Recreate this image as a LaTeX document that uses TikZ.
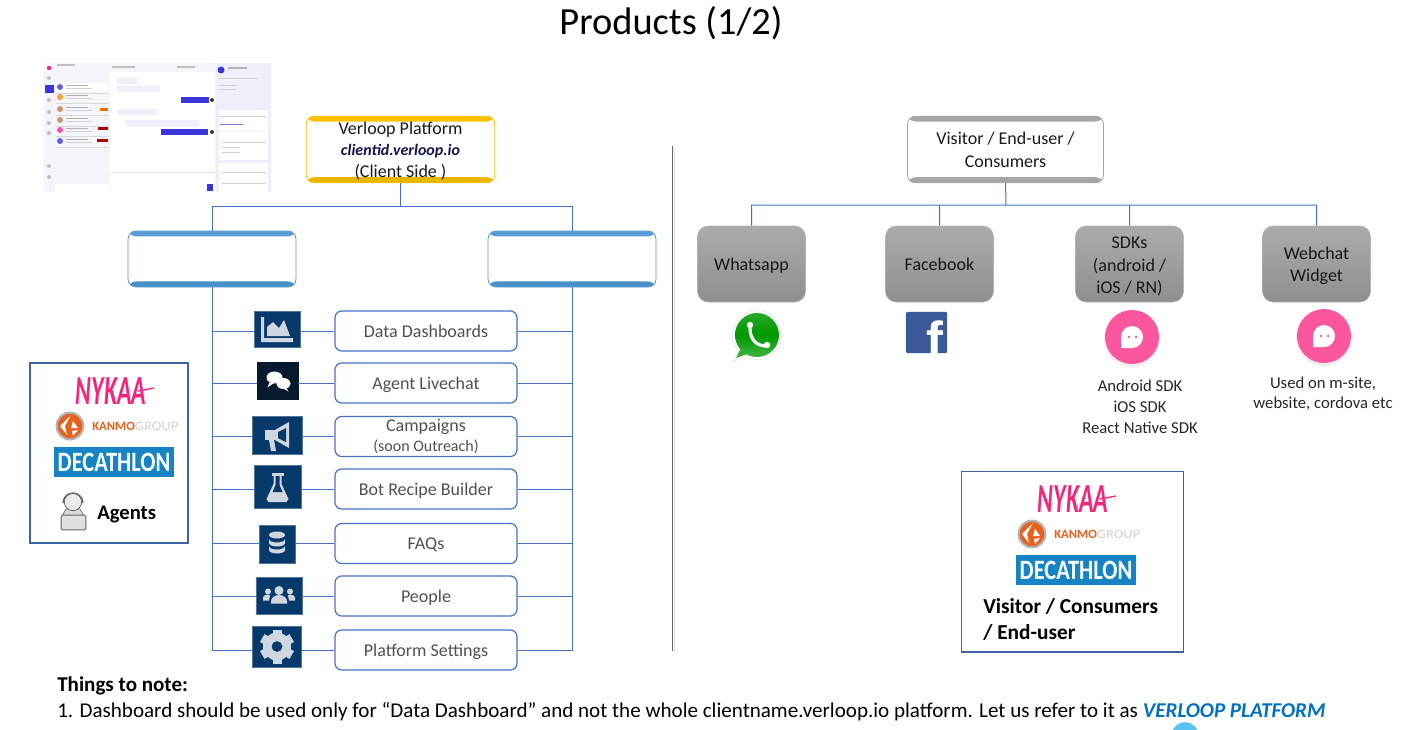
\documentclass[tikz,border=0pt]{standalone}
\usepackage{fontspec}
\setmainfont{Carlito}
\usetikzlibrary{positioning,calc}
\definecolor{vlLine}{HTML}{4472C4}
\definecolor{vlInk}{HTML}{505050}
\definecolor{vlGold}{HTML}{FFC000}
\definecolor{vlGoldDark}{HTML}{E8B500}
\definecolor{vlBlue}{HTML}{5B9BD5}
\definecolor{vlBlueDark}{HTML}{4A90C8}
\definecolor{vlGrey}{HTML}{A5A5A5}
\definecolor{vlNavy}{HTML}{073A6B}
\definecolor{vlNight}{HTML}{071A2D}
\definecolor{vlIcon}{HTML}{CFD6E0}
\definecolor{vlFrame}{HTML}{3F62A0}
\definecolor{vlPink}{HTML}{FC569F}
\definecolor{vlDeca}{HTML}{1683C5}
\definecolor{vlOrange}{HTML}{E8601C}
\definecolor{vlRose}{HTML}{F6257C}
\definecolor{vlPanel}{HTML}{EDF0FA}
\definecolor{vlIndigo}{HTML}{3B36DC}
\definecolor{vlFace}{HTML}{3B5998}
\definecolor{vlSky}{HTML}{5BC2F0}
\definecolor{vlCaps}{HTML}{0070C0}
\newcommand{\pxfont}[1]{\fontsize{#1}{#1}\selectfont}
\tikzset{
  link/.style={draw=vlLine,line width=.75pt},
  bandbox/.style n args={4}{draw=#1,line width=.6pt,fill=white,rounded corners=6pt,align=center,
    minimum width=#3,minimum height=#4,inner sep=0pt,font=\pxfont{13.5},
    path picture={
      \fill[#1] (path picture bounding box.north west) rectangle
        ([yshift=-4pt]path picture bounding box.north east);
      \fill[#2] (path picture bounding box.south west) rectangle
        ([yshift=4.2pt]path picture bounding box.south east);}},
  rowbox/.style={draw=vlLine,line width=.9pt,fill=white,rounded corners=5pt,align=center,text=vlInk,
    minimum width=136.5pt,minimum height=30pt,inner sep=0pt,font=\pxfont{13.5},text depth=0pt},
  iconbox/.style={fill=vlNavy,draw=vlNavy!70,line width=.3pt,inner sep=0pt},
  channel/.style={rounded corners=8pt,draw=black!30,line width=.4pt,top color=black!33,bottom color=black!44,
    align=center,minimum width=81pt,minimum height=57pt,inner sep=0pt,font=\pxfont{13.5},text=black!90},
  framebox/.style={draw=vlFrame,line width=1pt,fill=white,inner sep=0pt},
  note/.style={font=\pxfont{12.5},align=center,text=black!85},
  chip/.style={fill=vlPanel,draw=none},
  pics/brandlogos/.style={code={
    \node[font=\bfseries\itshape\pxfont{31},text=vlRose,inner sep=0pt] (-nykaa) at (-3,-71)
      {\scalebox{.58}[1]{NYKAA}};
    \draw[vlRose,line width=1pt] (24,-71) -- (40,-74);
    \node[draw=black!30,line width=1.6pt,circle,fill=vlOrange,minimum size=20pt,inner sep=0pt] (-kanmo) at (-44,-36) {};
    \fill[white] (-43,-47) -- (-54,-36) -- (-47,-27) -- (-49,-36) -- cycle;
    \fill[white] (-41,-41) -- (-36,-34) -- (-43,-34) -- cycle;
    \fill[white] (-42,-31) -- (-36,-32) -- (-41,-26) -- cycle;
    \node[font=\bfseries\pxfont{9.5},text=vlOrange,anchor=west,inner sep=0pt] (-kanmotext) at (-22,-36)
      {KANMO{\mdseries\color{black!18}\scalebox{1.15}[1]{GROUP}}};
    \node[fill=vlDeca,minimum width=90pt,minimum height=22.5pt,inner sep=0pt,text=white,
      font=\bfseries\pxfont{21}] (-deca) at (0,0) {\scalebox{.8}[1]{DECATHLON}};
  }},
}
\begin{document}
\begin{tikzpicture}[x=.75pt,y=-.75pt]
  \useasboundingbox (0,0) rectangle (1416,729);
  \node[font=\pxfont{28.8}] (title) at (671,23) {Products (1/2)};
  % dashboard screenshot
  \fill[vlPanel!70] (44,63) rectangle (271,192);
  \fill[white] (110,72) rectangle (215,192);
  \fill[vlPanel] (216,63) rectangle (271,192);
  \fill[white] (55,83) rectangle (109,92);
  \fill[white] (219,110) rectangle (268,131);
  \fill[white] (219,132) rectangle (268,160);
  \fill[white] (219,163) rectangle (268,192);
  \fill[white] (55,184) rectangle (109,192);
  \fill[vlRose] (49,68) circle (2.2);
  \fill[vlIndigo] (45,85) rectangle (54,93);
  \foreach \y in {78,100,112,123,133,166,177}{\fill[black!25] (49,\y) circle (2);}
  \foreach \y/\c in {87/vlIndigo,97/orange,109/brown,120/brown,130/vlRose,141/vlIndigo}{
    \fill[\c!80] (60,\y) circle (3);
    \fill[black!30] (66,\y-2) rectangle (88,\y-1);
    \fill[black!18] (66,\y+1) rectangle (92,\y+2);
    \fill[black!15] (56,\y+5.5) rectangle (109,\y+5.8);
  }
  \fill[red!70!black] (98,127) rectangle (108,130);
  \fill[red!70!black] (97,139) rectangle (108,142);
  \fill[orange!90!black] (100,108) rectangle (108,111);
  \fill[black!25] (57,64) rectangle (75,66);
  \fill[chip] (117,78) rectangle (137,84);
  \fill[chip] (117,86) rectangle (160,92);
  \fill[chip] (117,109) rectangle (158,115);
  \fill[chip] (126,120) rectangle (199,127);
  \fill[vlIndigo] (181,97) rectangle (209,103);
  \fill[vlIndigo] (161,129) rectangle (208,135);
  \fill[vlIndigo] (207,191) rectangle (213,184);
  \fill[black!60!brown] (212,100) circle (2);
  \fill[black!60!brown] (212,132) circle (2);
  \fill[black!25] (112,66) rectangle (135,68);
  \fill[black!25] (177,66) rectangle (195,68);
  \fill[vlIndigo] (221,70) circle (3.5);
  \fill[black!30] (228,67) rectangle (247,69);
  \fill[black!18] (219,78) rectangle (258,79);
  \fill[black!18] (219,85) rectangle (236,86);
  \fill[black!18] (219,89) rectangle (236,90);
  \fill[black!18] (219,116) rectangle (266,117);
  \fill[vlIndigo!70] (220,124) rectangle (243,125);
  \fill[black!18] (222,142) rectangle (266,143);
  \fill[black!18] (222,147) rectangle (240,148);
  \fill[black!18] (222,152) rectangle (240,153);
  \fill[black!18] (222,172) rectangle (266,173);
  \fill[black!18] (222,183) rectangle (266,184);
  \fill[black!12] (111,172) rectangle (215,172.6);
  % left tree
  \node[bandbox={vlGold}{vlGoldDark}{141.5pt}{50pt},text=black!90] (platform) at (400.5,149.5)
    {\rule{0pt}{12pt}Verloop Platform\\[2.5pt]{\bfseries\itshape\pxfont{12}\color{vlInk!50!blue!50!black}clientid.verloop.io}\\[3pt](Client Side )};
  \coordinate (platformfork) at (400.5,206);
  \node[bandbox={vlBlue}{vlBlueDark}{126pt}{42pt}] (leftbox) at (212,259) {};
  \node[bandbox={vlBlue}{vlBlueDark}{126pt}{42pt}] (rightbox) at (572,259) {};
  \draw[link] (platform.south) -- (platformfork) -| (leftbox.north) (platformfork) -| (rightbox.north);

  \node[rowbox] (dashbox) at (426,331) {Data Dashboards};
  \node[rowbox] (chatbox) at (426,383) {Agent Livechat};
  \node[rowbox,text depth=] (campbox) at (426,436.5) {Campaigns\\[1.5pt]{\pxfont{12}(soon Outreach)}};
  \node[rowbox] (botbox) at (426,489) {Bot Recipe Builder};
  \node[rowbox] (faqbox) at (426,543.5) {FAQs};
  \node[rowbox] (peoplebox) at (426,596) {People};
  \node[rowbox] (setbox) at (426,650) {Platform Settings};

  \node[iconbox,minimum width=34.5pt,minimum height=27pt] (dashicon) at (277,329) {};
  \node[iconbox,fill=vlNight,draw=vlNight,minimum width=31pt,minimum height=27.5pt] (chaticon) at (277.5,380.5) {};
  \node[iconbox,minimum width=37.5pt,minimum height=28.5pt] (campicon) at (277,435) {};
  \node[iconbox,minimum width=35pt,minimum height=32.5pt] (boticon) at (277.5,487) {};
  \node[iconbox,minimum width=27pt,minimum height=28.5pt] (faqicon) at (277,544) {};
  \node[iconbox,minimum width=34.5pt,minimum height=28pt] (peopleicon) at (279,595.5) {};
  \node[iconbox,minimum width=36.5pt,minimum height=31pt] (seticon) at (277,646.5) {};

  \draw[link]
    (leftbox.south) |- (dashicon.west |- dashbox.west) (dashicon.east |- dashbox.west) -- (dashbox.west) (dashbox.east) -| (rightbox.south)
    (leftbox.south) |- (chaticon.west |- chatbox.west) (chaticon.east |- chatbox.west) -- (chatbox.west) (chatbox.east) -| (rightbox.south)
    (leftbox.south) |- (campicon.west |- campbox.west) (campicon.east |- campbox.west) -- (campbox.west) (campbox.east) -| (rightbox.south)
    (leftbox.south) |- (boticon.west |- botbox.west) (boticon.east |- botbox.west) -- (botbox.west) (botbox.east) -| (rightbox.south)
    (leftbox.south) |- (faqicon.west |- faqbox.west) (faqicon.east |- faqbox.west) -- (faqbox.west) (faqbox.east) -| (rightbox.south)
    (leftbox.south) |- (peopleicon.west |- peoplebox.west) (peopleicon.east |- peoplebox.west) -- (peoplebox.west) (peoplebox.east) -| (rightbox.south)
    (leftbox.south) |- (seticon.west |- setbox.west) (seticon.east |- setbox.west) -- (setbox.west) (setbox.east) -| (rightbox.south);

  % icon glyphs
  \begin{scope}[shift={(dashicon.center)},vlIcon]
    \fill (-16,-12) -- (-13,-12) -- (-13,9) -- (16,9) -- (16,13) -- (-16,13) -- cycle;
    \fill (-10,7) -- (-10,-2) -- (-4,-7) -- (2,-1) -- (7,-9) -- (13,7) -- cycle;
  \end{scope}
  \begin{scope}[shift={(chaticon.center)},white]
    \fill (-3,-3) ellipse (8 and 6);
    \fill (-8,2) -- (-10,7) -- (-3,2) -- cycle;
    \fill (6,3) ellipse (7 and 5.5);
    \fill (8,6) -- (11,11) -- (4,7) -- cycle;
  \end{scope}
  \begin{scope}[shift={(campicon.center)},vlIcon]
    \fill (-12,-5) rectangle (-2,5);
    \fill (-2,-5) -- (12,-13) -- (12,13) -- (-2,5) -- cycle;
    \fill (-8,5) -- (-3,5) -- (-1,16) -- (-6,16) -- cycle;
    \fill[vlNavy] (1,-3) -- (9,-7) -- (9,7) -- (1,3) -- cycle;
  \end{scope}
  \begin{scope}[shift={(boticon.center)},vlIcon]
    \fill (-6,-14) rectangle (6,-11);
    \fill (-4,-11) -- (4,-11) -- (4,-3) -- (11,12) -- (9,15) -- (-9,15) -- (-11,12) -- (-4,-3) -- cycle;
    \fill[vlNavy] (-2,-11) -- (2,-11) -- (2,-2) -- (5,5) -- (-5,5) -- (-2,-2) -- cycle;
  \end{scope}
  \begin{scope}[shift={(faqicon.center)},vlIcon]
    \fill (0,-9) ellipse (8 and 3.5);
    \fill (-8,-5) arc (180:0:8 and 3.5) -- (8,-1) arc (0:180:8 and 3.5) -- cycle;
    \fill (-8,2) arc (180:0:8 and 3.5) -- (8,6) arc (0:180:8 and 3.5) -- cycle;
  \end{scope}
  \begin{scope}[shift={(peopleicon.center)},vlIcon]
    \fill (0,-5) circle (4.5);
    \fill (-8,8) -- (-8,6) arc (180:360:8 and 6.5) -- (8,8) -- cycle;
    \fill (-11,-4) circle (3);
    \fill (11,-4) circle (3);
    \fill (-16,5) -- (-16,2) arc (180:270:5 and 3) -- (-9,0) -- (-10,5) -- cycle;
    \fill (16,5) -- (16,2) arc (0:-90:5 and 3) -- (9,0) -- (10,5) -- cycle;
  \end{scope}
  \begin{scope}[shift={(seticon.center)},vlIcon]
    \foreach \a in {0,60,...,300}{\fill[rotate=\a] (-4.5,-17) rectangle (4.5,-10);}
    \fill[even odd rule] (0,0) circle (14) (0,0) circle (5.5);
  \end{scope}

  % agents panel
  \node[framebox,minimum width=118.5pt,minimum height=135pt] (agentframe) at (109,453) {};
  \pic (agentlogos) at (114,462) {brandlogos};
  \fill[black!15,draw=black!60,line width=.5pt] (62,516) -- (66,509) -- (80,509) -- (84,516) -- cycle;
  \node[draw=black!60,line width=.6pt,circle,fill=black!8,minimum size=13pt,inner sep=0pt] (agenthead) at (73,502) {};
  \draw[black!60,line width=1pt] (63,503) arc (180:360:10);
  \node[draw=black!60,line width=.7pt,fill=black!12,rounded corners=1pt,minimum width=18.5pt,minimum height=11pt,inner sep=0pt] (agentlaptop) at (73.5,522.5) {};
  \node[font=\bfseries\pxfont{15.5},anchor=west,inner sep=0pt,text depth=0pt] (agentlabel) at (97,512.5) {Agents};

  % separator
  \draw[black!10,line width=1.2pt] (674.5,147) -- (674.5,652);
  \draw[black!60,line width=.6pt] (672,146) -- (672,651);

  % right tree
  \node[bandbox={vlGrey}{vlGrey}{147pt}{50pt},text=black!90] (visitor) at (1005.5,149.5) {Visitor / End-user /\\[3.5pt]Consumers};
  \coordinate (visitorfork) at (1006,205);
  \node[channel,text depth=0pt] (whatsapp) at (751.5,264) {Whatsapp};
  \node[channel] (facebook) at (939.5,264) {Facebook};
  \node[channel] (sdks) at (1129.5,264) {\rule{0pt}{12.5pt}SDKs\\[3.5pt](android /\\[3.5pt]iOS / RN)};
  \node[channel] (webchat) at (1316.5,264) {\rule{0pt}{12pt}Webchat\\[3.5pt]Widget};
  \draw[link] (visitor.south) -- (visitorfork) -| (whatsapp.north) (visitorfork) -| (facebook.north)
    (visitorfork) -| (sdks.north) (visitorfork) -| (webchat.north);

  \node[circle,draw=black!30,densely dotted,line width=.4pt,fill=white,minimum size=37pt,inner sep=0pt] (wappring) at (757,335) {};
  \fill[white,draw=black!30,densely dotted,line width=.4pt] (740,349) -- (733,361) -- (752,355) -- cycle;
  \node[circle,top color=green!60!black!85,bottom color=green!60!black!75!white,middle color=green!60!black,minimum size=33pt,inner sep=0pt] (wapp) at (757,335) {};
  \fill[green!60!black!80] (741,348) -- (736,358) -- (750,353) -- cycle;
  \draw[white,line width=2.4pt,line cap=round] (750,328) .. controls (750,340) and (757,346) .. (766,346);
  \fill[white] (750,325) circle (3.2) (767,345) circle (3.2);
  \node[fill=vlFace,rounded corners=1pt,minimum size=31pt,inner sep=0pt] (fbicon) at (926.5,332.5) {};
  \node[anchor=south east,inner sep=0pt,text=white,font=\bfseries\fontspec{Liberation Sans}\pxfont{38}] (fbletter) at (944,357.5) {f};

  \fill[black!7] (1132,339) circle (28);
  \node[circle,fill=vlPink,minimum size=40.5pt,inner sep=0pt] (sdkchat) at (1132,337) {};
  \fill[white] (1121,348) -- (1121,337) arc (180:360:11) arc (0:90:11) -- cycle;
  \fill[vlPink] (1129,337) circle (1.3) (1136,337) circle (1.3);
  \fill[black!7] (1324,338) circle (28);
  \node[circle,fill=vlPink,minimum size=40.5pt,inner sep=0pt] (webchatchat) at (1324,336) {};
  \fill[white] (1313,347) -- (1313,336) arc (180:360:11) arc (0:90:11) -- cycle;
  \fill[vlPink] (1321,336) circle (1.3) (1328,336) circle (1.3);

  \node[note] (sdknote) at (1140,406.5) {Android SDK\\[3.2pt]iOS SDK\\[3.2pt]React Native SDK};
  \node[note] (webchatnote) at (1323,393.5) {Used on m-site,\\[2.6pt]website, cordova etc};

  % visitors panel
  \node[framebox,minimum width=166.5pt,minimum height=135.5pt] (visitorframe) at (1072.5,561.5) {};
  \pic (visitorlogos) at (1076,570) {brandlogos};
  \node[font=\bfseries\pxfont{16},anchor=west,inner sep=0pt,align=left] (visitorlabel) at (983,619.5)
    {Visitor / Consumers\\[3.5pt]/ End-user};

  % footer
  \node[anchor=west,inner sep=0pt,font=\bfseries\pxfont{15.8}] (notehead) at (57,686) {Things to note:};
  \node[anchor=west,inner sep=0pt,font=\pxfont{15.8}] (noteline) at (57,712)
    {1. Dashboard should be used only for “Data Dashboard” and not the whole clientname.verloop.io platform. Let us refer to it as {\bfseries\itshape\color{vlCaps}VERLOOP PLATFORM}};
  \fill[vlSky] (1185,736) circle (13.8);
\end{tikzpicture}
\end{document}
